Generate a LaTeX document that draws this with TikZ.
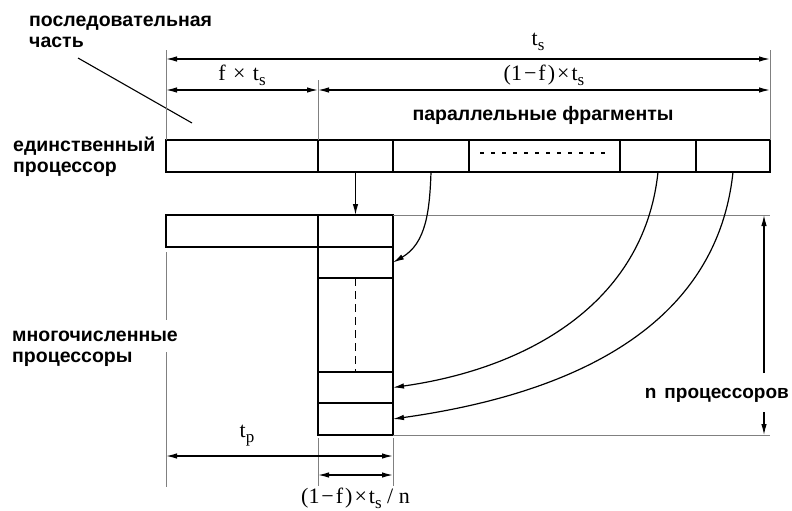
\documentclass[tikz,border=0pt]{standalone}
\usepackage{fontspec}
\setmainfont{Liberation Serif}
\newfontfamily\lblfont{Liberation Sans}
\usetikzlibrary{arrows.meta, positioning}
\newcommand\tsub[2]{#1\raisebox{-5pt}{\fontsize{17}{17}\selectfont #2}}
\newcommand\gp{\hspace{2pt}}

\begin{document}
\begin{tikzpicture}[
  x=1pt, y=1pt,
  cell/.style={
    draw, line width=1.3pt, anchor=north west,
    inner sep=0pt, outer sep=0pt,
    minimum height=32pt
  },
  lbl/.style={font=\lblfont\bfseries\fontsize{19.5}{21}\selectfont,
    align=left, inner sep=0pt, anchor=base west},
  val/.style={font=\fontsize{22}{24}\selectfont, inner sep=0pt},
  ext/.style={gray, line width=0.6pt},
  dim/.style={{Latex[length=11pt,width=5.5pt]}-{Latex[length=11pt,width=5.5pt]},
    line width=1.3pt},
  arr/.style={-{Latex[length=11pt,width=5.5pt]}, line width=1.2pt}
]
\useasboundingbox (0,0) rectangle (792,-511);

% one processor
\node[cell, minimum width=152pt] (s1) at (166,-140) {};
\node[cell, minimum width=75pt, right=0pt of s1] (s2) {};
\node[cell, minimum width=76pt, right=0pt of s2] (s3) {};
\node[cell, minimum width=151pt, right=0pt of s3] (s4) {};
\node[cell, minimum width=76pt, right=0pt of s4] (s5) {};
\node[cell, minimum width=74pt, right=0pt of s5] (s6) {};
\draw[line width=1.3pt, dash pattern=on 4pt off 7pt]
  ([xshift=11pt, yshift=3pt]s4.west) -- ([xshift=-9pt, yshift=3pt]s4.east);

% n processors
\node[cell, minimum width=152pt] (m0) at (166,-215) {};
\node[cell, minimum width=75pt, right=0pt of m0] (p1) {};
\node[cell, minimum width=75pt, minimum height=31pt, below=0pt of p1] (p2) {};
\node[cell, minimum width=75pt, minimum height=94pt, below=0pt of p2] (p3) {};
\node[cell, minimum width=75pt, minimum height=31pt, below=0pt of p3] (p4) {};
\node[cell, minimum width=75pt, minimum height=32pt, below=0pt of p4] (p5) {};
\draw[line width=1.3pt, dash pattern=on 8pt off 5pt] (p3.north) -- (p3.south);

% labels (base = last line)
\node[lbl] (seqpart) at (29,-48) {последовательная\\часть};
\node[lbl] (single) at (13,-172) {единственный\\процессор};
\node[lbl] (multi) at (12,-362) {многочисленные\\процессоры};
\node[lbl, anchor=base] (par) at (543,-120) {параллельные фрагменты};
\node[lbl, anchor=base east, font=\lblfont\bfseries\fontsize{19}{21}\selectfont]
  (nproc) at (789,-398) {n\hspace{8pt}процессоров};

\coordinate (leadA) at (78,-58);
\coordinate (leadB) at (192,-123);
\draw[line width=1.1pt] (leadA) -- (leadB);

% extension lines
\draw[ext] (s1.north west) -- ++(0,90);
\draw[ext] (s2.north west) -- ++(0,60);
\draw[ext] (s6.north east) -- ++(0,90);
\draw[ext] ([yshift=-5pt]m0.south west) -- (166,-320);
\draw[ext] (166,-352) -- (166,-487);
\draw[ext] ([yshift=-3pt]p5.south west) -- ++(0,-48);
\draw[ext] ([yshift=-3pt]p5.south east) -- ++(0,-48);
\draw[ext] (p1.north east) -- (s6.east |- p1.north east);
\draw[ext] (p5.south east) -- (s6.east |- p5.south east);

% times
\coordinate (yts) at (0,-59);
\coordinate (yf) at (0,-90);
\coordinate (ytp) at (0,-456);
\coordinate (ytn) at (0,-475);
\draw[dim] (s1.west |- yts) -- node[val, pos=0.616, above=8pt] {\tsub{t}{s}}
  (s6.east |- yts);
\draw[dim] (s1.west |- yf) -- node[val, above=4pt] {f\gp\ ×\gp\ \tsub{t}{s}}
  (s2.west |- yf);
\draw[dim] (s2.west |- yf) -- node[val, above=4pt] {(1\gp−\gp f\gp)\gp×\gp\tsub{t}{s}}
  (s6.east |- yf);
\draw[dim] (m0.west |- ytp) -- node[val, pos=0.357, above=9pt] {\tsub{t}{p}}
  (p5.east |- ytp);
\draw[dim] (p5.west |- ytn) -- node[val, below=12pt] {(1\gp−\gp f\gp)\gp×\gp\tsub{t}{s}\ /\ n}
  (p5.east |- ytn);

\coordinate (nup) at (764,-373);
\coordinate (ndown) at (764,-412);
\draw[arr] (nup) -- (nup |- p1.north);
\draw[arr] (ndown) -- (ndown |- p5.south);

% moving the fragments
\draw[arr] (s2.south) -- (p1.north);
\draw[arr] (s3.south) to[out=-92, in=30] (p2.east);
\draw[arr] (s5.south) to[out=-96, in=8] (p4.east);
\draw[arr] (s6.south) to[out=-96, in=8] (p5.east);

\end{tikzpicture}
\end{document}
